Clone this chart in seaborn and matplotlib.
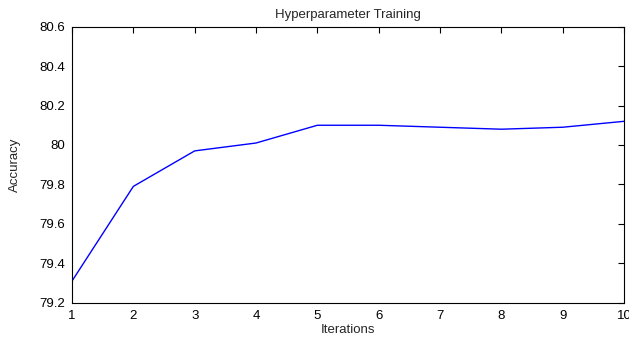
import matplotlib
matplotlib.use("Agg")
import matplotlib.pyplot as plt
import seaborn as sns
import pandas as pd

iterations = [1, 2, 3, 4, 5, 6, 7, 8, 9, 10]
accuracy = [79.31, 79.79, 79.97, 80.01, 80.10, 80.10, 80.09, 80.08, 80.09, 80.12]
x_ticks = [1, 2, 3, 4, 5, 6, 7, 8, 9, 10]
y_ticks = [79.2, 79.4, 79.6, 79.8, 80.0, 80.2, 80.4, 80.6]
y_labels = ["79.2", "79.4", "79.6", "79.8", "80", "80.2", "80.4", "80.6"]

sns.set_style("white")
plt.rcParams["font.family"] = ["Liberation Sans", "DejaVu Sans"]

df = pd.DataFrame({"Iterations": iterations, "Accuracy": accuracy})

fig = plt.figure(figsize=(6.29, 3.37), dpi=100)
ax = fig.add_axes([0.1145, 0.1018, 0.8776, 0.819])
sns.lineplot(data=df, x="Iterations", y="Accuracy", ax=ax, color="#0000ff", linewidth=1.0)

ax.set_xlim(1, 10)
ax.set_ylim(79.2, 80.6)
ax.set_xticks(x_ticks)
ax.set_yticks(y_ticks)
ax.set_yticklabels(y_labels)
ax.tick_params(direction="in", length=4, width=0.8, top=True, right=True,
               labelsize=9.5, colors="black", pad=5)
for s in ax.spines.values():
    s.set_color("black")
    s.set_linewidth(0.8)
ax.set_xlabel("Iterations", fontsize=9.5, labelpad=2)
ax.set_ylabel("Accuracy", fontsize=9.5, labelpad=13)
ax.set_title("Hyperparameter Training", fontsize=9.5, pad=6)

fig.savefig("out.png", dpi=100)
